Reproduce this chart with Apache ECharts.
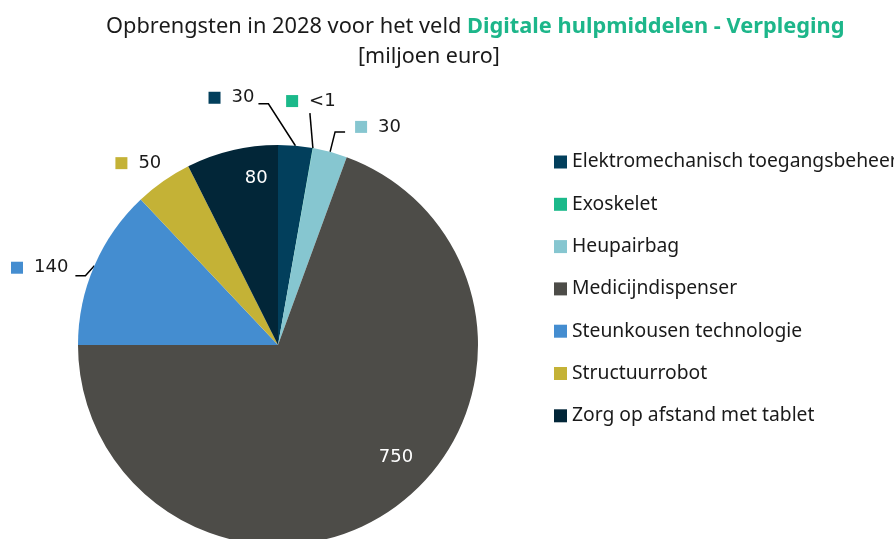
<!DOCTYPE html>
<html>
<head>
<meta charset="utf-8">
<script src="https://cdn.jsdelivr.net/npm/echarts@6/dist/echarts.min.js"></script>
<style>html,body{margin:0;padding:0;background:#fff;}#c{width:894px;height:539px;}</style>
</head>
<body>
<div id="c"></div>
<script>
const categories = ['Elektromechanisch toegangsbeheer','Exoskelet','Heupairbag','Medicijndispenser','Steunkousen technologie','Structuurrobot','Zorg op afstand met tablet'];
const values = [30, 0.3, 30, 750, 140, 50, 80];
const colors = ['#023f5c','#1bb98a','#86c6d0','#4d4c48','#448dd0','#c4b236','#022638'];
const insideIdx = [3, 6];

const chart = echarts.init(document.getElementById('c'));
const fmtVal = v => v < 1 ? '<1' : String(Math.round(v));

const data = categories.map((name, i) => {
  const inside = insideIdx.includes(i);
  return {
    name, value: values[i],
    itemStyle: { color: colors[i] },
    label: inside ? {
      position: 'inside',
      formatter: p => fmtVal(p.value),
      color: '#ffffff', fontSize: 18, fontFamily: 'DejaVu Sans'
    } : {
      position: 'outside',
      formatter: p => '{sq|}{v|' + fmtVal(p.value) + '}',
      rich: {
        sq: { width: 12, height: 12, backgroundColor: colors[i] },
        v: { fontSize: 18, fontFamily: 'DejaVu Sans', color: '#1a1a1a', padding: [0, 0, 0, 11] }
      }
    },
    labelLine: { show: i !== 5 }
  };
});

// label layout offsets relative to the computed anchors
const lineOff = {
  0: { p1: [-27, -42], p2: [-10, 0], lab: [-4, -6], align: 'right' },
  1: { p1: [-3, -35], p2: [0, 0], lab: [1, -3], align: 'center', va: 'bottom' },
  2: { p1: [5, -20], p2: [10, 0], lab: [10, -5], align: 'left' },
  4: { p1: [-9, 10], p2: [-10, 0], lab: [-7, -8], align: 'right' },
  5: { p1: [0, 0], p2: [0, 0], lab: [-2, -18], align: 'right' }
};
const insideOff = { 3: [59, 28], 6: [2, -66] };

chart.setOption({
  animation: false,
  title: [{
    text: '{a|Opbrengsten in 2028 voor het veld }{b|Digitale hulpmiddelen - Verpleging}',
    left: 101, top: 11,
    textStyle: {
      fontWeight: 'normal',
      rich: {
        a: { fontSize: 21.8, fontFamily: 'Noto Sans', color: '#1a1a1a', fontWeight: 'normal' },
        b: { fontSize: 21.8, fontFamily: 'Noto Sans', fontWeight: 'bold', color: '#1db68a' }
      }
    }
  }, {
    text: '[miljoen euro]',
    left: 353, top: 41,
    textStyle: { fontSize: 21.5, fontFamily: 'Noto Sans', color: '#1a1a1a', fontWeight: 'normal' }
  }],
  legend: {
    orient: 'vertical',
    left: 549, top: 147,
    icon: 'rect', itemWidth: 13, itemHeight: 13, itemGap: 22.3,
    textStyle: { fontSize: 19.3, fontFamily: 'Noto Sans', color: '#1a1a1a', lineHeight: 20 },
    data: categories
  },
  series: [{
    type: 'pie',
    center: [278, 345],
    radius: 200,
    startAngle: 90,
    clockwise: true,
    avoidLabelOverlap: false,
    data,
    labelLine: { length: 10, length2: 10, lineStyle: { color: '#000', width: 1.5 } },
    emphasis: { disabled: true },
    labelLayout: function (p) {
      const i = p.dataIndex;
      if (insideOff[i]) return { dx: insideOff[i][0], dy: insideOff[i][1] };
      const o = lineOff[i];
      if (!o || !p.labelLinePoints) return {};
      const p0 = p.labelLinePoints[0];
      const p1 = [p0[0] + o.p1[0], p0[1] + o.p1[1]];
      const p2 = [p1[0] + o.p2[0], p1[1] + o.p2[1]];
      return {
        x: p2[0] + o.lab[0], y: p2[1] + o.lab[1],
        align: o.align, verticalAlign: o.va || 'middle',
        labelLinePoints: [p0, p1, p2]
      };
    }
  }]
});
</script>
</body>
</html>
